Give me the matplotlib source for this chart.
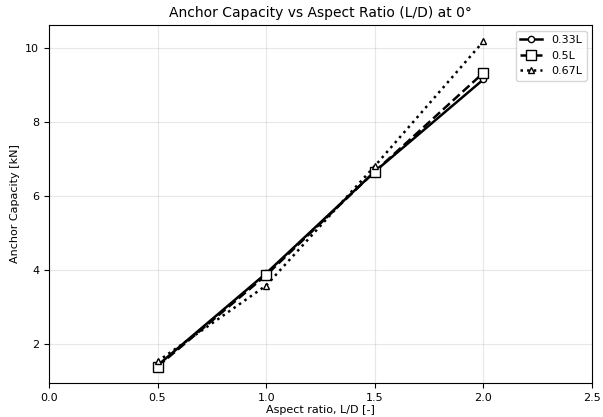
import matplotlib
matplotlib.use("Agg")
import matplotlib.pyplot as plt

aspect = [0.5, 1.0, 1.5, 2.0]
cap_033 = [1.41, 3.90, 6.65, 9.14]
cap_05 = [1.38, 3.85, 6.65, 9.32]
cap_067 = [1.52, 3.57, 6.80, 10.17]
labels = ["0.33L", "0.5L", "0.67L"]

fig = plt.figure(figsize=(6.03, 4.17), dpi=100)
ax = fig.add_axes([0.081, 0.082, 0.901, 0.858])

spec = [("-", "o", 4.5), ("--", "s", 6.5), (":", "^", 4.5)]
for vals, (ls, mk, ms), lab in zip([cap_033, cap_05, cap_067], spec, labels):
    ax.plot(aspect, vals, color="k", ls=ls, marker=mk, markersize=ms,
            markerfacecolor="white", markeredgecolor="k", lw=1.8, label=lab)

ax.set_xlim(0, 2.5)
ax.grid(True, alpha=0.3)
ax.tick_params(labelsize=8)
ax.set_xlabel("Aspect ratio, L/D [-]", fontsize=8, labelpad=2)
ax.set_ylabel("Anchor Capacity [kN]", fontsize=8)
ax.set_title("Anchor Capacity vs Aspect Ratio (L/D) at 0°", fontsize=10)
ax.legend(fontsize=8, loc="upper right")

fig.savefig("out.png", dpi=100)
